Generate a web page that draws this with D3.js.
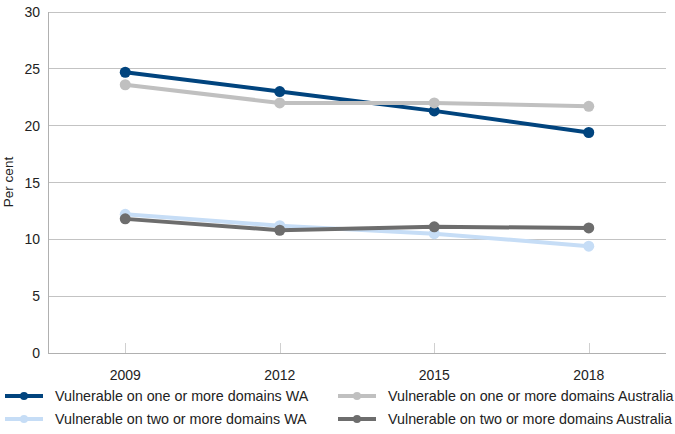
<!DOCTYPE html>
<html><head><meta charset="utf-8">
<script src="https://cdn.jsdelivr.net/npm/d3@7"></script>
<style>body{margin:0;background:#fff;}svg{display:block;font-family:"Liberation Sans",Arial,sans-serif;}</style>
</head><body>
<svg id="c" width="675" height="434"></svg>
<script>
const years = ["2009","2012","2015","2018"];
const waOne = [24.7, 23.0, 21.3, 19.4];
const ausOne = [23.6, 22.0, 22.0, 21.7];
const waTwo = [12.2, 11.2, 10.5, 9.4];
const ausTwo = [11.8, 10.8, 11.1, 11.0];
const yTicks = [0,5,10,15,20,25,30];
const seriesNames = ["Vulnerable on one or more domains WA","Vulnerable on two or more domains WA","Vulnerable on one or more domains Australia","Vulnerable on two or more domains Australia"];
const colors = ["#01447e","#c6ddf6","#c0c0c0","#6d6d6d"];
const seriesVals = [waOne, waTwo, ausOne, ausTwo];

const svg = d3.select("#c");
const L=48,R=666,T=12,B=353;
const x = d3.scaleBand().domain(years).range([L,R]);
const y = d3.scaleLinear().domain([0,30]).range([B,T]);

svg.append("g").selectAll("line").data(yTicks.filter(d=>d>0)).join("line")
 .attr("x1",L).attr("x2",R).attr("y1",d=>y(d)).attr("y2",d=>y(d))
 .attr("stroke","#c3c3c3").attr("stroke-width",1).attr("shape-rendering","crispEdges");
svg.append("line").attr("x1",L+0.5).attr("x2",L+0.5).attr("y1",T).attr("y2",B).attr("stroke","#b0b0b0");
svg.append("line").attr("x1",L).attr("x2",R).attr("y1",B+0.5).attr("y2",B+0.5).attr("stroke","#b0b0b0");
svg.append("g").selectAll("line").data(years).join("line")
 .attr("x1",d=>Math.round(x(d)+x.bandwidth()/2)+0.5).attr("x2",d=>Math.round(x(d)+x.bandwidth()/2)+0.5)
 .attr("y1",B-10).attr("y2",B).attr("stroke","#d0d0d0");
svg.append("g").selectAll("text").data(yTicks).join("text")
 .attr("x",40).attr("y",d=>y(d)+5).attr("text-anchor","end").attr("font-size",14).attr("fill","#222").text(d=>d);
svg.append("g").selectAll("text").data(years).join("text")
 .attr("x",d=>x(d)+x.bandwidth()/2).attr("y",380).attr("text-anchor","middle").attr("font-size",14).attr("fill","#222").text(d=>d);
svg.append("text").attr("transform","translate(13,182) rotate(-90)").attr("text-anchor","middle").attr("font-size",13.5).attr("fill","#222").text("Per cent");

const line = d3.line().x((d,i)=>x(years[i])+x.bandwidth()/2).y(d=>y(d));
[0,1,2,3].forEach(s=>{
  const g=svg.append("g");
  g.append("path").datum(seriesVals[s]).attr("d",line).attr("fill","none").attr("stroke",colors[s]).attr("stroke-width",4);
  g.selectAll("circle").data(seriesVals[s]).join("circle")
   .attr("cx",(d,i)=>x(years[i])+x.bandwidth()/2).attr("cy",d=>y(d)).attr("r",5.5).attr("fill",colors[s]);
});

const legPos=[[5,396],[5,419],[338,396],[338,419]];
seriesNames.forEach((n,s)=>{
  const [lx,ly]=legPos[s];
  const g=svg.append("g");
  g.append("line").attr("x1",lx).attr("x2",lx+38).attr("y1",ly).attr("y2",ly).attr("stroke",colors[s]).attr("stroke-width",4);
  g.append("circle").attr("cx",lx+19).attr("cy",ly).attr("r",4).attr("fill",colors[s]);
  g.append("text").attr("x",lx+50).attr("y",ly+5).attr("font-size",14.3).attr("fill","#222").text(n);
});
</script>
</body></html>
